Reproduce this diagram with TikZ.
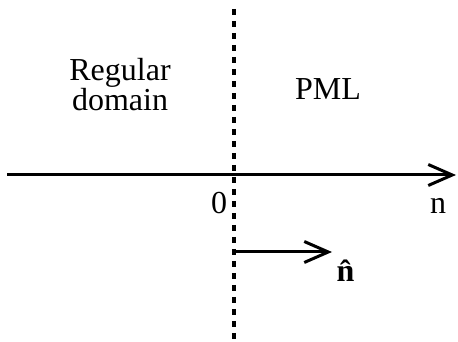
\documentclass[tikz,border=0pt]{standalone}
\usepackage{fontspec}
\setmainfont{Liberation Serif}
\usepackage{tikz}
\usetikzlibrary{arrows.meta}

\tikzset{
	axisline/.style={line width=3pt, -{Straight Barb[length=24pt,width=21pt]}},
	boundary/.style={line width=3.3pt, dash pattern=on 6pt off 6pt},
	lbl/.style={anchor=base, inner sep=0pt, font=\fontsize{32}{28}\selectfont}
}

\begin{document}
\begin{tikzpicture}[x=1pt,y=1pt]
	\useasboundingbox (0,0) rectangle (458,342);
	% interface between the two regions
	\coordinate (top) at (234,333);
	\coordinate (bot) at (234,0);
	\draw[boundary] (top) -- (bot);
	% axis
	\coordinate (left) at (7,167);
	\coordinate (right) at (456,167);
	\draw[axisline] (left) -- (right);
	% normal vector
	\coordinate (nstart) at (234,90);
	\coordinate (nend) at (332,90);
	\draw[axisline] (nstart) -- (nend);
	% labels
	\node[lbl, align=center] (reg) at (120,231) {Regular\\domain};
	\node[lbl] (pml) at (328,242) {PML};
	\node[lbl] (zero) at (219,128) {0};
	\node[lbl] (axn) at (438,128) {n};
	\node[lbl] (nhat) at (348,60) {\textbf{\^{n}}};
\end{tikzpicture}
\end{document}
